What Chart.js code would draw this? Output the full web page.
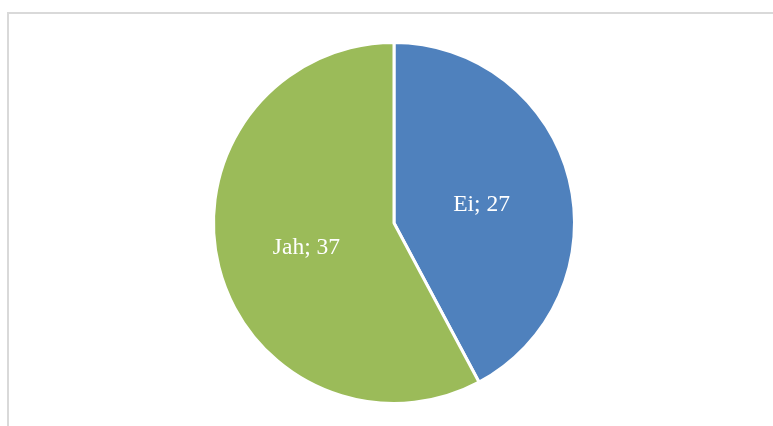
<!DOCTYPE html>
<html>
<head>
<meta charset="utf-8">
<script src="https://cdn.jsdelivr.net/npm/chart.js@4"></script>
<style>
  html, body { margin: 0; padding: 0; background: #fff; overflow: hidden; }
  #wrap { position: relative; width: 773px; height: 426px; }
  #frame {
    position: absolute; left: 7px; top: 12px; width: 780px; height: 430px;
    border: 2px solid #D9D9D9; box-sizing: border-box;
  }
  canvas { position: absolute; left: 0; top: 0; }
</style>
</head>
<body>
<div id="wrap">
  <div id="frame"></div>
  <canvas id="pieChart" width="773" height="426"></canvas>
</div>
<script>
const categories = ['Ei', 'Jah'];
const answers = [27, 37];
const sliceColors = ['#4F81BD', '#9BBB59'];

// "Ei; 27" style labels in the middle of each slice
const sliceLabels = {
    id: 'sliceLabels',
    afterDatasetsDraw(chart) {
        const ctx = chart.ctx;
        const meta = chart.getDatasetMeta(0);
        ctx.save();
        ctx.fillStyle = '#fff';
        ctx.font = '23.5px "Liberation Serif", "DejaVu Serif", serif';
        ctx.textAlign = 'center';
        ctx.textBaseline = 'alphabetic';
        meta.data.forEach((arc, i) => {
            const p = arc.tooltipPosition();
            ctx.fillText(categories[i] + '; ' + answers[i], p.x, p.y + 9.5);
        });
        ctx.restore();
    }
};

const pieCtx = document.getElementById('pieChart').getContext('2d');
new Chart(pieCtx, {
    type: 'pie',
    data: {
        labels: categories,
        datasets: [{
            data: answers,
            backgroundColor: sliceColors,
            borderColor: '#fff',
            borderWidth: 3
        }]
    },
    options: {
        responsive: false,
        animation: false,
        layout: { padding: { left: 212, right: 197, top: 41, bottom: 21 } },
        plugins: {
            legend: { display: false },
            tooltip: { enabled: false }
        }
    },
    plugins: [sliceLabels]
});
</script>
</body>
</html>
